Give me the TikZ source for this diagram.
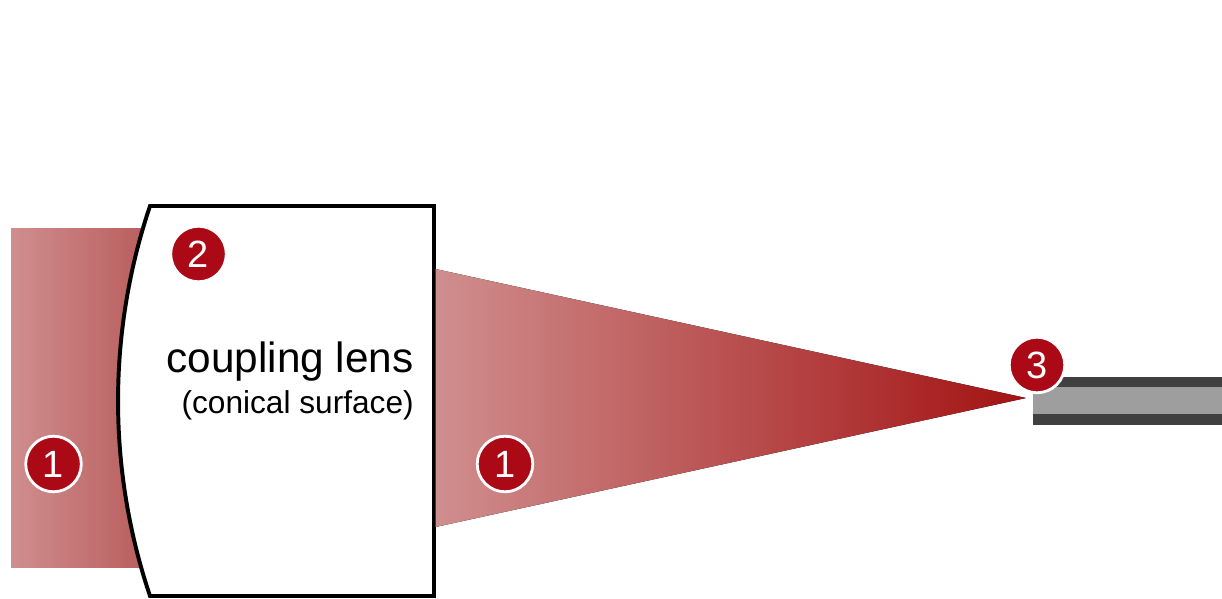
\documentclass[tikz,border=0pt]{standalone}
\usepackage{fontspec}
\usepackage{xcolor}
\setmainfont{Liberation Sans}
\usetikzlibrary{positioning, shapes, calc}
\definecolor{beamlight}{HTML}{D08E8E}
\definecolor{beammid}{HTML}{B85C5C}
\definecolor{beamdark}{HTML}{A31212}
\definecolor{badgered}{HTML}{AC0916}
\definecolor{cladding}{HTML}{404040}
\definecolor{fibercore}{HTML}{9E9E9E}
\tikzset{
  badge/.style={circle, draw=white, fill=badgered, line width=2pt, text=white, inner sep=0pt, minimum size=39.5pt, font=\fontsize{27}{30}\selectfont},
  lenslabel/.style={anchor=base east, inner sep=0pt, text=black}
}
\begin{document}
\begin{tikzpicture}[x=0.025cm, y=-0.025cm]
        \useasboundingbox (0,0) rectangle (1222,598);

        % Incoming beam
        \fill[left color=beamlight, right color=beammid] (11,228) rectangle (150,567.5);

        % Coupling lens
        \draw[fill=white, line width=2.8pt, line join=miter] (150,206) .. controls (107.4,332.6) and (107.4,469.4) .. (150,596) -- (434,596) -- (434,206) -- cycle;

        % Focused beam
        \fill[left color=beamlight, right color=beamdark] (435.5,269) -- (1026,398) -- (435.5,527) -- cycle;

        % Fiber
        \fill[cladding] (1033,376.5) rectangle (1222,424.5);
        \fill[fibercore] (1033,386.5) rectangle (1222,414);

        % Lens labels
        \node[lenslabel, font=\fontsize{30.1}{36}\selectfont] (lensname) at (414,372) {coupling lens};
        \node[lenslabel, font=\fontsize{22.5}{26}\selectfont] (lenssurface) at (414,413) {(conical surface)};

        % Numbered badges
        \foreach \name/\x/\y/\num in {one/53.5/464/1, two/198.5/254/2, oneb/505/464/1, three/1037/365/3} {
          \node[badge] (\name) at (\x,\y) {\num};
        }
      \end{tikzpicture}
\end{document}
